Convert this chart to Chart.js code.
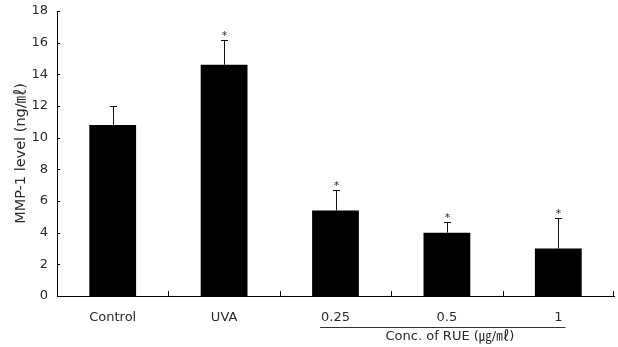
<!DOCTYPE html>
<html>
<head>
<meta charset="utf-8">
<script src="https://cdn.jsdelivr.net/npm/chart.js@4/dist/chart.umd.min.js"></script>
<style>
  html, body { margin: 0; padding: 0; background: #fff; }
  #wrap { width: 618px; height: 347px; }
</style>
</head>
<body>
<div id="wrap"><canvas id="c" width="618" height="347"></canvas></div>
<script>
// MMP-1 level per treatment group (mean and upper standard deviation)
const groups = ['Control', 'UVA', '0.25', '0.5', '1'];
const mmp1Level = [10.8, 14.6, 5.4, 4.0, 3.0];
const mmp1SD = [1.2, 1.6, 1.3, 0.7, 1.9];
const significant = [false, true, true, true, true];
const yTicks = [0, 2, 4, 6, 8, 10, 12, 14, 16, 18];
const concGroupStart = 2;   // first RUE concentration group
const concGroupEnd = 4;     // last RUE concentration group
const concLabel = 'Conc. of RUE (\u338D/\u3396)';
const yTitle = 'MMP-1 level (ng/\u3396)';

const FONT = '"DejaVu Sans", "Noto Sans CJK KR", sans-serif';
const INK = '#2a2a2a';

// Error bars, significance stars, inward tick marks and the concentration bracket
const decorations = {
  id: 'decorations',
  afterDatasetsDraw(chart) {
    const ctx = chart.ctx;
    const x = chart.scales.x, y = chart.scales.y;
    const area = chart.chartArea;
    ctx.save();

    // error bars
    ctx.strokeStyle = '#111';
    ctx.lineWidth = 1;
    mmp1Level.forEach((v, i) => {
      const cx = Math.round(x.getPixelForValue(i)) + 0.5;
      const yTop = Math.round(y.getPixelForValue(v + mmp1SD[i])) + 0.5;
      const yBar = y.getPixelForValue(v);
      ctx.beginPath();
      ctx.moveTo(cx, yBar);
      ctx.lineTo(cx, yTop);
      ctx.moveTo(cx - 3.5, yTop);
      ctx.lineTo(cx + 3.5, yTop);
      ctx.stroke();
      if (significant[i]) {
        ctx.fillStyle = INK;
        ctx.font = '11px ' + FONT;
        ctx.textAlign = 'center';
        ctx.textBaseline = 'middle';
        ctx.fillText('*', cx, yTop - 4);
      }
    });

    // y ticks pointing into the plot
    ctx.strokeStyle = '#000';
    yTicks.forEach(t => {
      const py = Math.round(y.getPixelForValue(t)) + 0.5;
      ctx.beginPath();
      ctx.moveTo(area.left, py);
      ctx.lineTo(area.left + 3, py);
      ctx.stroke();
    });

    // x ticks at category boundaries, pointing up
    for (let i = 0; i < groups.length; i++) {
      const px = Math.round((x.getPixelForValue(i) + x.getPixelForValue(i + 1)) / 2) + 0.5;
      const bx = i === groups.length - 1 ? Math.round(area.right) - 0.5 : px;
      ctx.beginPath();
      ctx.moveTo(bx, area.bottom);
      ctx.lineTo(bx, area.bottom - 5);
      ctx.stroke();
    }

    // bracket under the concentration labels
    ctx.font = '13px ' + FONT;
    const wFirst = ctx.measureText(groups[concGroupStart]).width;
    const wLast = ctx.measureText(groups[concGroupEnd]).width;
    const x0 = x.getPixelForValue(concGroupStart) - wFirst / 2 - 1;
    const x1 = x.getPixelForValue(concGroupEnd) + wLast / 2 + 3;
    const lineY = Math.round(area.bottom + 31) + 0.5;
    ctx.strokeStyle = '#333';
    ctx.beginPath();
    ctx.moveTo(x0, lineY);
    ctx.lineTo(x1, lineY);
    ctx.stroke();

    ctx.fillStyle = INK;
    ctx.textAlign = 'center';
    ctx.textBaseline = 'middle';
    ctx.fillText(concLabel, x.getPixelForValue((concGroupStart + concGroupEnd) / 2) + 3, area.bottom + 41);
    ctx.restore();
  }
};

new Chart(document.getElementById('c'), {
  type: 'bar',
  data: {
    labels: groups,
    datasets: [{
      data: mmp1Level,
      backgroundColor: '#000',
      borderWidth: 0,
      barPercentage: 0.42,
      categoryPercentage: 1.0
    }]
  },
  options: {
    responsive: false,
    animation: false,
    devicePixelRatio: 1,
    layout: { padding: { top: 11, right: 4, left: 0, bottom: 0 } },
    plugins: { legend: { display: false }, tooltip: { enabled: false } },
    scales: {
      x: {
        offset: true,
        grid: { display: false, drawTicks: false },
        border: { display: true, color: '#000', width: 1 },
        ticks: { color: INK, font: { family: FONT, size: 13 }, padding: 14, maxRotation: 0 },
        afterFit(scale) {
          scale.height = 51;
          scale.paddingLeft = 0;
          scale.paddingRight = 0;
        }
      },
      y: {
        min: 0,
        max: 18,
        afterBuildTicks(scale) { scale.ticks = yTicks.map(v => ({ value: v })); },
        grid: { display: false, drawTicks: false },
        border: { display: true, color: '#000', width: 1 },
        ticks: { color: INK, font: { family: FONT, size: 13 }, padding: 9 },
        title: {
          display: true,
          text: yTitle,
          color: INK,
          font: { family: FONT, size: 14.5 },
          padding: { top: 13, bottom: 0 }
        },
        afterFit(scale) {
          scale.width = 57;
          scale.paddingTop = 0;
          scale.paddingBottom = 0;
        }
      }
    }
  },
  plugins: [decorations]
});
</script>
</body>
</html>
